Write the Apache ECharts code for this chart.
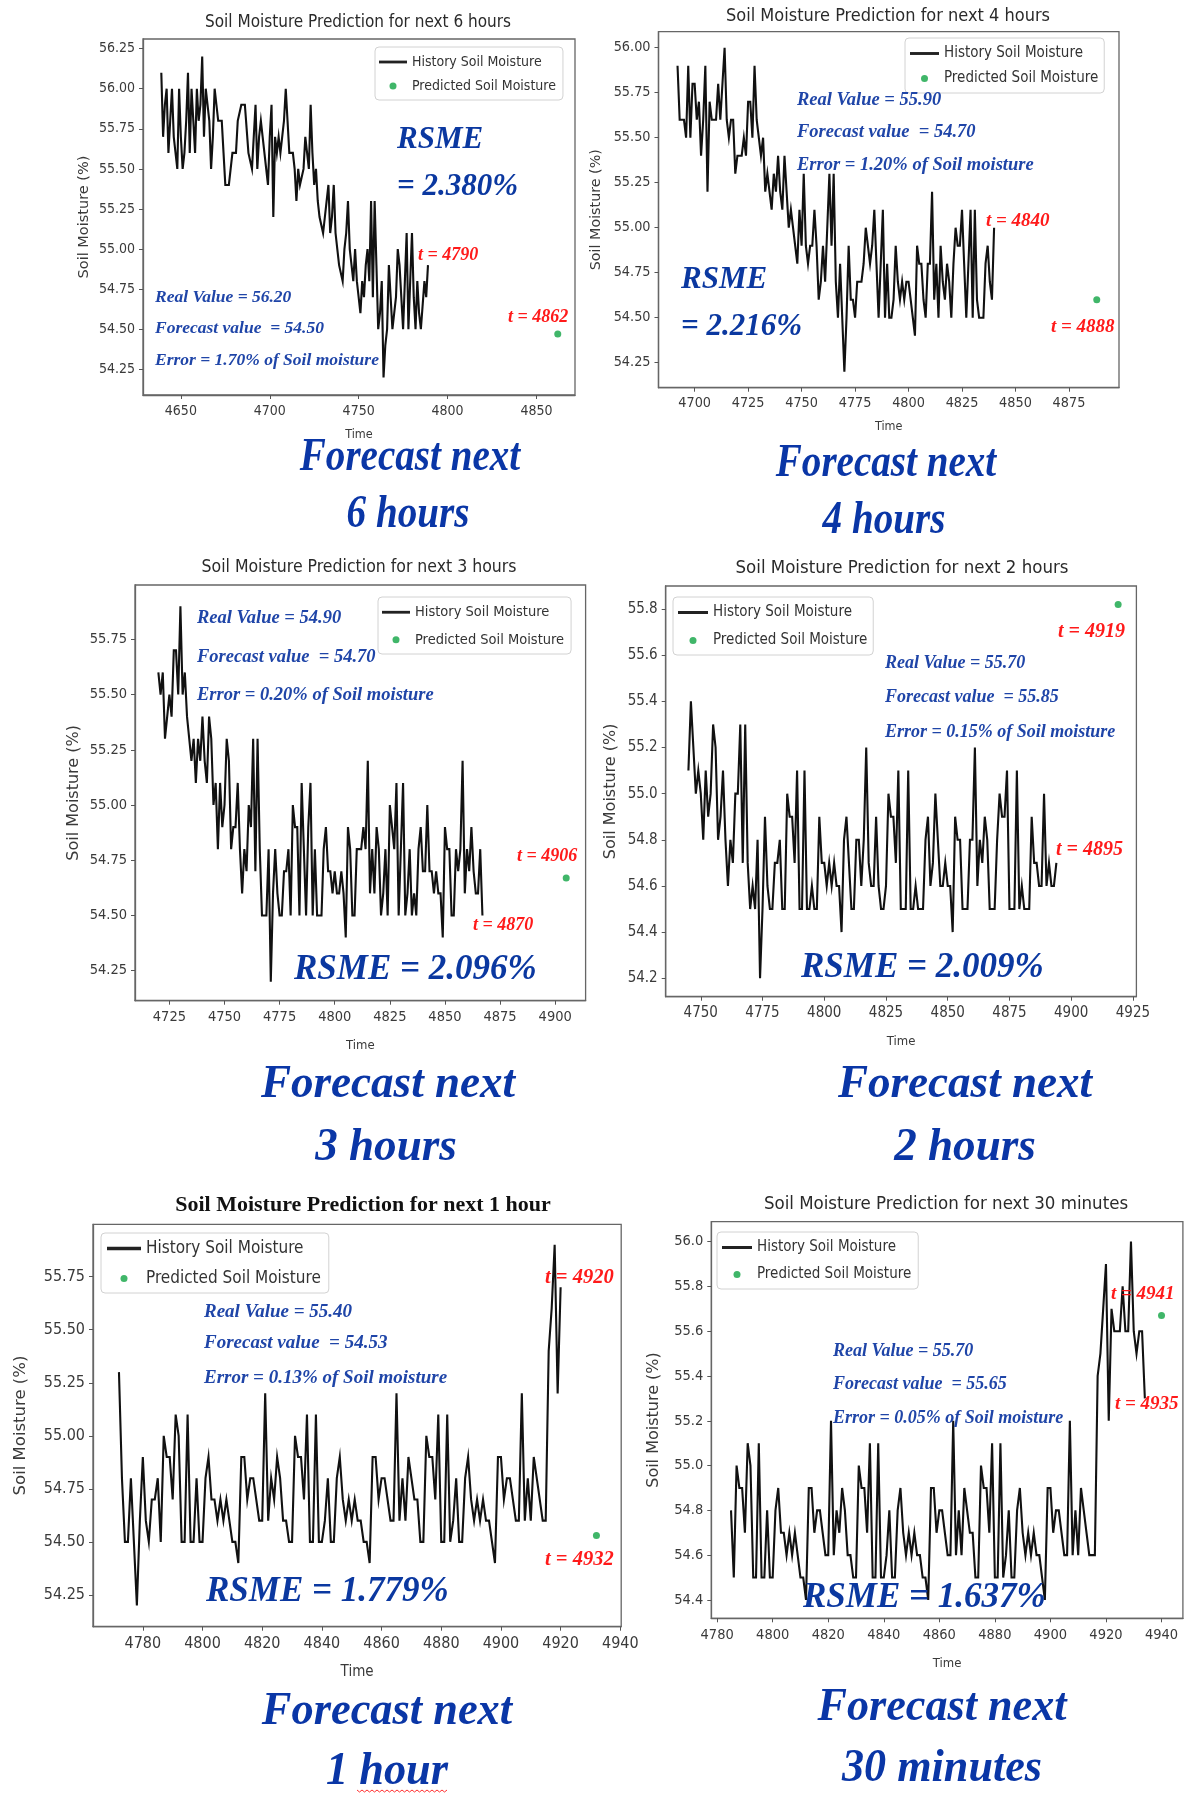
<!DOCTYPE html>
<html><head><meta charset="utf-8">
<script src="https://cdn.jsdelivr.net/npm/echarts@6/dist/echarts.min.js"></script>
<style>html,body{margin:0;padding:0;background:#fff}#c{width:1185px;height:1795px}</style>
</head><body><div id="c"></div>
<script>
// ================= DATA =================
const seriesNames = ['History Soil Moisture', 'Predicted Soil Moisture'];
const panelTitles = [
  'Soil Moisture Prediction for next 6 hours',
  'Soil Moisture Prediction for next 4 hours',
  'Soil Moisture Prediction for next 3 hours',
  'Soil Moisture Prediction for next 2 hours',
  'Soil Moisture Prediction for next 1 hour',
  'Soil Moisture Prediction for next 30 minutes'
];
const captionLines = [
  ['Forecast next', '6 hours'], ['Forecast next', '4 hours'], ['Forecast next', '3 hours'],
  ['Forecast next', '2 hours'], ['Forecast next', '1 hour'], ['Forecast next', '30 minutes']
];
const realValues = ['56.20', '55.90', '54.90', '55.70', '55.40', '55.70'];
const forecastValues = ['54.50', '54.70', '54.70', '55.85', '54.53', '55.65'];
const errorPercents = ['1.70', '1.20', '0.20', '0.15', '0.13', '0.05'];
const rsmeValues = ['2.380', '2.216', '2.096', '2.009', '1.779', '1.637'];
const timeLabels = [['t = 4790', 't = 4862'], ['t = 4840', 't = 4888'], ['t = 4906', 't = 4870'],
                    ['t = 4919', 't = 4895'], ['t = 4920', 't = 4932'], ['t = 4941', 't = 4935']];

const p1Start = 4639;
const p1History = [
 56.1,55.7,55.9,56.0,55.6,55.8,56.0,55.7,55.6,55.5,
 56.0,55.7,55.5,55.6,55.8,56.1,55.6,56.0,55.8,55.6,
 56.0,55.8,55.9,56.2,55.7,56.0,56.0,55.8,55.5,55.7,
 56.0,55.9,55.8,55.8,55.8,55.6,55.4,55.4,55.4,55.4,
 55.6,55.6,55.6,55.8,55.8,55.9,55.9,55.9,55.9,55.6,
 55.6,55.5,55.7,55.9,55.5,55.7,55.8,55.7,55.7,55.5,
 55.4,55.7,55.9,55.2,55.7,55.6,55.7,55.6,55.6,55.8,
 56.0,55.8,55.6,55.6,55.6,55.5,55.3,55.5,55.4,55.4,
 55.5,55.7,55.6,55.5,55.9,55.6,55.4,55.5,55.3,55.2,
 55.2,55.1,55.2,55.3,55.4,55.1,55.2,55.4,55.1,55.0,
 54.9,54.9,54.8,55.0,55.1,55.3,55.0,54.9,54.8,55.0,
 54.8,54.7,54.6,54.8,54.7,54.9,55.0,54.8,55.3,54.7,
 55.3,54.9,54.5,54.6,54.8,54.2,54.4,54.5,54.9,54.7,
 54.5,54.6,54.7,55.0,54.9,54.7,54.5,54.8,55.1,54.5,
 54.8,55.1,54.7,54.5,54.8,54.6,54.5,54.5,54.8,54.7,
 54.9
];
const p1Pred = [4862, 54.47];
const p1XTicks = [4650, 4700, 4750, 4800, 4850];
const p1YTicks = [54.25, 54.50, 54.75, 55.00, 55.25, 55.50, 55.75, 56.00, 56.25];

const p2Start = 4692;
const p2History = [
 55.9,55.6,55.6,55.6,55.5,55.9,55.5,55.8,55.8,55.6,
 55.7,55.4,55.6,55.9,55.2,55.7,55.6,55.6,55.6,55.8,
 55.6,55.8,56.0,55.6,55.5,55.6,55.6,55.3,55.4,55.4,
 55.4,55.5,55.4,55.7,55.7,55.5,55.9,55.6,55.5,55.4,
 55.5,55.2,55.3,55.2,55.1,55.3,55.2,55.4,55.2,55.1,
 55.4,55.2,55.0,55.1,55.0,54.9,54.8,55.1,54.9,55.3,
 54.9,54.8,54.9,54.9,55.1,54.9,54.6,54.7,54.9,54.7,
 55.0,55.3,54.9,55.3,54.7,54.5,54.8,54.5,54.2,54.5,
 54.9,54.6,54.6,54.5,54.7,54.7,54.7,54.8,55.0,54.9,
 54.8,54.9,55.1,54.8,54.5,54.8,55.1,54.5,54.8,54.5,
 54.5,54.6,54.9,54.7,54.6,54.7,54.6,54.7,54.7,54.6,
 54.5,54.4,54.9,54.8,54.8,54.6,54.5,54.8,54.8,55.2,
 54.6,54.8,54.5,54.9,54.7,54.6,54.8,54.7,54.5,54.8,
 55.0,54.9,54.9,55.1,54.8,54.5,54.8,55.1,54.5,55.1,
 54.6,54.5,54.5,54.5,54.8,54.9,54.7,54.6,55.0
];
const p2Pred = [4888, 54.60];
const p2XTicks = [4700, 4725, 4750, 4775, 4800, 4825, 4850, 4875];
const p2YTicks = [54.25, 54.50, 54.75, 55.00, 55.25, 55.50, 55.75, 56.00];

const p3Start = 4720;
const p3History = [
 55.6,55.5,55.6,55.3,55.4,55.5,55.4,55.7,55.7,55.5,
 55.9,55.5,55.6,55.4,55.3,55.2,55.3,55.1,55.3,55.2,
 55.4,55.2,55.1,55.4,55.3,55.0,55.1,54.8,55.1,54.9,
 55.0,55.3,55.2,54.8,54.9,54.9,55.1,54.8,54.6,54.8,
 54.7,55.0,54.9,55.3,54.7,55.3,54.8,54.5,54.5,54.5,
 54.8,54.2,
 54.6,54.8,54.6,54.5,54.5,54.7,54.7,54.8,54.5,55.0,
 54.9,54.9,54.5,55.1,54.8,54.5,54.9,55.1,54.5,54.8,
 54.5,54.5,54.5,54.8,54.9,54.7,54.7,54.6,54.7,54.6,
 54.6,54.7,54.6,54.4,54.9,54.8,54.5,54.5,54.8,54.8,
 54.8,54.9,54.8,55.2,54.6,54.8,54.6,54.9,54.8,54.5,
 54.6,54.8,54.5,55.0,54.9,54.8,55.1,54.5,54.8,55.1,
 54.5,54.6,54.8,54.5,54.6,54.5,54.8,54.9,54.7,54.7,
 55.0,54.7,54.7,54.6,54.7,54.6,54.6,54.4,54.9,54.8,
 54.8,54.5,54.5,54.8,54.7,54.8,55.2,54.6,54.8,54.7,
 54.9,54.7,54.6,54.6,54.8,54.5
];
const p3Pred = [4905, 54.67];
const p3XTicks = [4725, 4750, 4775, 4800, 4825, 4850, 4875, 4900];
const p3YTicks = [54.25, 54.50, 54.75, 55.00, 55.25, 55.50, 55.75];

const p4Start = 4745;
const p4History = [
 55.1,55.4,55.2,55.0,55.1,55.0,54.8,55.1,54.9,55.0,
 55.3,55.2,54.8,54.9,55.1,54.8,54.6,54.8,54.7,55.0,
 55.0,55.3,54.7,55.3,54.7,54.5,54.6,54.5,54.8,
 54.2,
 54.5,54.9,54.6,54.5,54.5,54.7,54.7,54.8,54.5,54.5,55.0,
 54.9,54.9,54.7,55.1,54.5,54.5,55.1,54.5,54.5,54.6,
 54.5,54.5,54.9,54.7,54.7,54.6,54.7,54.6,54.7,54.6,
 54.6,54.4,54.8,54.9,54.7,54.5,54.5,54.8,54.8,54.6,
 54.8,55.2,54.7,54.6,54.6,54.9,54.6,54.5,54.5,54.6,
 55.0,54.9,54.9,54.7,55.1,54.5,54.5,54.5,55.1,54.5,54.5,
 54.6,54.5,54.5,54.5,54.8,54.9,54.6,54.7,55.0,54.8,54.6,54.6,
 54.7,54.6,54.6,54.4,54.9,54.8,54.8,54.5,54.5,54.5,54.8,
 54.8,55.2,54.6,54.8,54.7,54.9,54.8,54.5,54.5,54.5,54.8,
 55.0,54.9,54.9,55.1,54.5,54.5,54.5,55.1,54.5,54.6,54.5,
 54.5,54.5,54.9,54.7,54.7,54.6,54.6,55.0,54.6,54.7,54.6,54.6,54.7
];
const p4Pred = [4919, 55.82];
const p4XTicks = [4750, 4775, 4800, 4825, 4850, 4875, 4900, 4925];
const p4YTicks = [54.2, 54.4, 54.6, 54.8, 55.0, 55.2, 55.4, 55.6, 55.8];

const p5Start = 4772;
const p5History = [
 55.3,54.8,54.5,54.5,54.8,54.5,54.2,54.6,54.9,54.6,
 54.5,54.7,54.7,54.8,54.5,55.0,54.9,54.9,54.7,55.1,
 55.0,54.5,54.5,55.1,54.5,54.5,54.8,54.5,54.5,54.8,
 54.9,54.7,54.7,54.6,54.7,54.6,54.7,54.6,54.5,54.5,
 54.4,54.9,54.9,54.7,54.8,54.8,54.7,54.6,54.6,55.2,
 54.6,54.8,54.7,54.9,54.8,54.6,54.6,54.5,54.5,55.0,
 54.9,54.9,54.7,55.1,54.5,54.5,55.1,54.5,54.5,54.6,
 54.8,54.5,54.5,54.8,54.9,54.7,54.6,54.7,54.6,54.7,
 54.6,54.6,54.5,54.5,54.4,54.9,54.9,54.7,54.8,54.8,
 54.7,54.6,54.6,55.2,54.6,54.8,54.6,54.9,54.8,54.7,
 54.7,54.5,54.5,55.0,54.9,54.9,54.7,55.1,54.5,54.5,
 55.1,54.5,54.6,54.8,54.5,54.5,54.8,54.9,54.7,54.6,
 54.7,54.6,54.7,54.6,54.6,54.5,54.4,54.9,54.9,54.7,
 54.8,54.8,54.7,54.6,54.6,55.2,54.6,54.8,54.6,54.9,
 54.8,54.7,54.6,54.6,55.4,55.6,55.9,55.2,55.7
];
const p5Pred = [4932, 54.53];
const p5XTicks = [4780, 4800, 4820, 4840, 4860, 4880, 4900, 4920, 4940];
const p5YTicks = [54.25, 54.50, 54.75, 55.00, 55.25, 55.50, 55.75];

const p6Start = 4785;
const p6History = [
 54.8,54.5,55.0,54.9,54.9,54.7,55.1,55.0,54.5,54.5,
 55.1,54.5,54.5,54.8,54.5,54.5,54.8,54.9,54.7,54.7,
 54.6,54.7,54.6,54.7,54.6,54.5,54.5,54.4,54.9,54.9,
 54.7,54.8,54.8,54.7,54.6,54.6,55.2,54.6,54.8,54.7,
 54.9,54.8,54.6,54.6,54.5,54.5,55.0,54.9,54.9,54.7,
 55.1,54.5,54.5,55.1,54.5,54.5,54.6,54.8,54.5,54.5,
 54.8,54.9,54.7,54.6,54.7,54.6,54.7,54.6,54.6,54.5,
 54.5,54.4,54.9,54.9,54.7,54.8,54.8,54.7,54.6,54.6,
 55.2,54.6,54.8,54.6,54.9,54.8,54.7,54.7,54.5,54.5,
 55.0,54.9,54.9,54.7,55.1,54.5,54.5,55.1,54.5,54.6,
 54.8,54.5,54.5,54.8,54.9,54.7,54.6,54.7,54.6,54.7,
 54.6,54.6,54.5,54.4,54.9,54.9,54.7,54.8,54.8,54.7,
 54.6,54.6,55.2,54.6,54.8,54.6,54.9,54.8,54.7,54.6,
 54.6,54.6,55.4,55.5,55.7,55.9,55.2,55.7,55.6,55.6,
 55.6,55.8,55.6,55.6,56.0,55.6,55.5,55.6,55.6,55.3
];
const p6Pred = [4940, 55.67];
const p6XTicks = [4780, 4800, 4820, 4840, 4860, 4880, 4900, 4920, 4940];
const p6YTicks = [54.4, 54.6, 54.8, 55.0, 55.2, 55.4, 55.6, 55.8, 56.0];

// ================= LAYOUT / STYLE =================
const SANS_C = "'DejaVu Sans Condensed','Liberation Sans Narrow','DejaVu Sans',sans-serif";
const SANS = "'DejaVu Sans',sans-serif";
const SERIF = "'Liberation Serif','Times New Roman','DejaVu Serif',serif";
const BLUE_INFO = '#1f45a8', BLUE_RSME = '#0b38a0', BLUE_CAP = '#0a36a6', RED = '#ff1a1a';
const GREEN = '#10a443';

const panels = [
  {start:p1Start, hist:p1History, pred:p1Pred, xt:p1XTicks, yt:p1YTicks, dec:2,
   grid:{left:143, top:39, width:432, height:356}, xr:[4628.7,4871.7], yr:[54.09,56.31],
   tickFs:14, xNameFs:12.5, xNameGap:33, yNameFs:14.5, yNameGap:51,
   leg:{left:375, top:47, fs:14, iw:28, gap:8, pad:[7,7,6,4]},
   title:{x:358, y:23, fs:17},
   info:{x:155, ys:[297,328,360], fs:17.5},
   rsme:[{x:397, y:140, t:'RSME'}, {x:397, y:187, t:'= ' + rsmeValues[0] + '%'}], rsmeFs:31,
   red:[{x:418, y:255}, {x:508, y:317}], redFs:18,
   cap:[{x:410, y:458}, {x:408, y:515}], capSx:0.85},
  {start:p2Start, hist:p2History, pred:p2Pred, xt:p2XTicks, yt:p2YTicks, dec:2,
   grid:{left:658.5, top:31.7, width:460.5, height:356}, xr:[4683.1,4898.4], yr:[54.111,56.089],
   tickFs:14.3, xNameFs:12.5, xNameGap:33, yNameFs:14.3, yNameGap:55,
   leg:{left:905, top:38, fs:15, iw:29, gap:8, pad:[7,6,6,5]},
   title:{x:888, y:16, fs:18},
   info:{x:797, ys:[100,132,165], fs:18.5},
   rsme:[{x:681, y:280, t:'RSME'}, {x:681, y:327, t:'= ' + rsmeValues[1] + '%'}], rsmeFs:31,
   red:[{x:986, y:221}, {x:1051, y:327}], redFs:19,
   cap:[{x:886, y:464}, {x:884, y:521}], capSx:0.85},
  {start:p3Start, hist:p3History, pred:p3Pred, xt:p3XTicks, yt:p3YTicks, dec:2,
   grid:{left:135, top:585, width:450.6, height:415.7}, xr:[4709.4,4913.8], yr:[54.114,55.996],
   tickFs:14.5, xNameFs:13, xNameGap:38, yNameFs:16, yNameGap:53,
   leg:{left:378, top:597, fs:14.5, iw:28, gap:11, pad:[7,7,6,4]},
   title:{x:359, y:567, fs:17.5},
   info:{x:197, ys:[618,657,695], fs:18.5},
   rsme:[{x:294, y:970, t:'RSME = ' + rsmeValues[2] + '%'}], rsmeFs:35,
   red:[{x:517, y:856}, {x:473, y:925}], redFs:18,
   cap:[{x:388, y:1085}, {x:386, y:1148}], capSx:0.98},
  {start:p4Start, hist:p4History, pred:p4Pred, xt:p4XTicks, yt:p4YTicks, dec:1,
   grid:{left:665.7, top:586, width:470.7, height:410.7}, xr:[4735.8,4926.4], yr:[54.12,55.90],
   tickFs:15, xNameFs:13, xNameGap:38, yNameFs:16, yNameGap:47,
   leg:{left:673, top:597, fs:15, iw:30, gap:11, pad:[7,6,6,5]},
   title:{x:902, y:568, fs:18.5},
   info:{x:885, ys:[663,697,732], fs:18},
   rsme:[{x:801, y:968, t:'RSME = ' + rsmeValues[3] + '%'}], rsmeFs:35,
   red:[{x:1058, y:632}, {x:1056, y:850}], redFs:20,
   cap:[{x:965, y:1085}, {x:965, y:1148}], capSx:0.98},
  {start:p5Start, hist:p5History, pred:p5Pred, xt:p5XTicks, yt:p5YTicks, dec:2,
   grid:{left:93, top:1224.3, width:528.2, height:402.4}, xr:[4763.3,4940.3], yr:[54.10,55.997],
   tickFs:16, xNameFs:15, xNameGap:38, yNameFs:16.5, yNameGap:64,
   leg:{left:101, top:1233, fs:17, iw:34, gap:11, pad:[6,8,5,6]},
   title:{x:363, y:1205, fs:22, serif:true},
   info:{x:204, ys:[1312,1343,1378], fs:19},
   rsme:[{x:206, y:1592, t:'RSME = ' + rsmeValues[4] + '%'}], rsmeFs:35,
   red:[{x:545, y:1278}, {x:545, y:1560}], redFs:20.5,
   cap:[{x:387, y:1712}, {x:387, y:1772}], capSx:0.965, squiggle:{x0:357, x1:447, y:1790}},
  {start:p6Start, hist:p6History, pred:p6Pred, xt:p6XTicks, yt:p6YTicks, dec:1,
   grid:{left:711.3, top:1221.7, width:471.6, height:396.6}, xr:[4777.9,4947.7], yr:[54.318,56.089],
   tickFs:14.5, xNameFs:13, xNameGap:39, yNameFs:16, yNameGap:49,
   leg:{left:717, top:1232, fs:15, iw:30, gap:10, pad:[7,7,6,5]},
   title:{x:946, y:1204, fs:18.5},
   info:{x:833, ys:[1351,1384,1418], fs:18},
   rsme:[{x:803, y:1598, t:'RSME = ' + rsmeValues[5] + '%'}], rsmeFs:35,
   red:[{x:1111, y:1294}, {x:1115, y:1404}], redFs:19,
   cap:[{x:942, y:1708}, {x:942, y:1769}], capSx:0.96}
];

function txt(x, y, s, o) {
  return {type:'text', x:x, y:y, scaleX:o.sx || 1, silent:true, z:100,
    style:{text:s, fill:o.color, fontSize:o.fs, fontFamily:o.ff,
      fontStyle:o.it ? 'italic' : 'normal', fontWeight:o.bold ? 'bold' : 'normal',
      textAlign:o.align || 'left', align:o.align || 'left',
      textVerticalAlign:'middle', verticalAlign:'middle'}};
}

const LINE_ICON = 'path://M0,0H30V3H0Z';
const grids = [], xAxes = [], yAxes = [], series = [], legends = [], graphics = [];
panels.forEach((p, i) => {
  grids.push(Object.assign({show:true, borderColor:'#666', borderWidth:1.3, backgroundColor:'#fff'}, p.grid));
  xAxes.push({gridIndex:i, type:'value', min:p.xr[0], max:p.xr[1],
    axisLine:{show:true, onZero:false, lineStyle:{color:'#666', width:1.3}},
    axisTick:{show:true, length:4, customValues:p.xt, lineStyle:{color:'#555'}},
    axisLabel:{show:true, customValues:p.xt, margin:9, color:'#3a3a3a', fontSize:p.tickFs, fontFamily:SANS_C,
      formatter:v => String(Math.round(v))},
    splitLine:{show:false},
    name:'Time', nameLocation:'middle', nameGap:p.xNameGap,
    nameTextStyle:{color:'#3a3a3a', fontSize:p.xNameFs, fontFamily:SANS_C}});
  yAxes.push({gridIndex:i, type:'value', min:p.yr[0], max:p.yr[1],
    axisLine:{show:true, onZero:false, lineStyle:{color:'#666', width:1.3}},
    axisTick:{show:true, length:4, customValues:p.yt, lineStyle:{color:'#555'}},
    axisLabel:{show:true, customValues:p.yt, margin:8, color:'#3a3a3a', fontSize:p.tickFs, fontFamily:SANS_C,
      formatter:v => v.toFixed(p.dec)},
    splitLine:{show:false},
    name:'Soil Moisture (%)', nameLocation:'middle', nameRotate:90, nameGap:p.yNameGap,
    nameTextStyle:{color:'#3a3a3a', fontSize:p.yNameFs, fontFamily:SANS}});
  series.push({type:'line', name:seriesNames[0], xAxisIndex:i, yAxisIndex:i,
    data:p.hist.map((v, k) => [p.start + k, v]),
    symbol:'none', showSymbol:false, lineStyle:{color:'#111', width:2.1, join:'miter'}, itemStyle:{color:'#111'},
    z:3, animation:false});
  series.push({type:'scatter', name:seriesNames[1], xAxisIndex:i, yAxisIndex:i,
    data:[p.pred], symbol:'circle', symbolSize:7, itemStyle:{color:GREEN}, z:4, animation:false});
  legends.push({left:p.leg.left, top:p.leg.top, orient:'vertical', selectedMode:false,
    itemGap:p.leg.gap, itemWidth:p.leg.iw, itemHeight:7, padding:p.leg.pad,
    backgroundColor:'#fff', borderColor:'#d2d2d2', borderWidth:1, borderRadius:4,
    textStyle:{color:'#333', fontSize:p.leg.fs, fontFamily:SANS_C, lineHeight:p.leg.fs + 2},
    data:[{name:seriesNames[0], icon:LINE_ICON, itemStyle:{color:'#222'}},
          {name:seriesNames[1], icon:'circle', itemStyle:{color:GREEN}}]});

  // title
  graphics.push(txt(p.title.x, p.title.y, panelTitles[i], p.title.serif
    ? {color:'#111', fs:p.title.fs, ff:SERIF, bold:true, align:'center'}
    : {color:'#2a2a2a', fs:p.title.fs, ff:SANS_C, align:'center'}));
  // info lines
  const info = ['Real Value = ' + realValues[i], 'Forecast value  = ' + forecastValues[i],
                'Error = ' + errorPercents[i] + '% of Soil moisture'];
  info.forEach((s, k) => graphics.push(txt(p.info.x, p.info.ys[k], s,
    {color:BLUE_INFO, fs:p.info.fs, ff:SERIF, it:true, bold:true})));
  // RSME
  p.rsme.forEach(r => graphics.push(txt(r.x, r.y, r.t,
    {color:BLUE_RSME, fs:p.rsmeFs, ff:SERIF, it:true, bold:true})));
  // red time labels
  p.red.forEach((r, k) => graphics.push(txt(r.x, r.y, timeLabels[i][k],
    {color:RED, fs:p.redFs, ff:SERIF, it:true, bold:true})));
  // captions
  p.cap.forEach((c, k) => graphics.push(txt(c.x, c.y, captionLines[i][k],
    {color:BLUE_CAP, fs:46, ff:SERIF, it:true, bold:true, align:'center', sx:p.capSx})));
  // spell-check squiggle under a caption (decoration)
  if (p.squiggle) {
    const pts = [];
    for (let x = p.squiggle.x0, k = 0; x <= p.squiggle.x1; x += 2.5, k++) pts.push([x, p.squiggle.y + (k % 2 ? 2 : 0)]);
    graphics.push({type:'polyline', silent:true, z:100, shape:{points:pts}, style:{stroke:'#ff3030', lineWidth:1, fill:null}});
  }
});

const chart = echarts.init(document.getElementById('c'), null, {renderer:'canvas'});
chart.setOption({
  animation:false,
  backgroundColor:'#fff',
  grid:grids, xAxis:xAxes, yAxis:yAxes, series:series, legend:legends,
  graphic:{elements:graphics}
});
</script>
</body></html>
